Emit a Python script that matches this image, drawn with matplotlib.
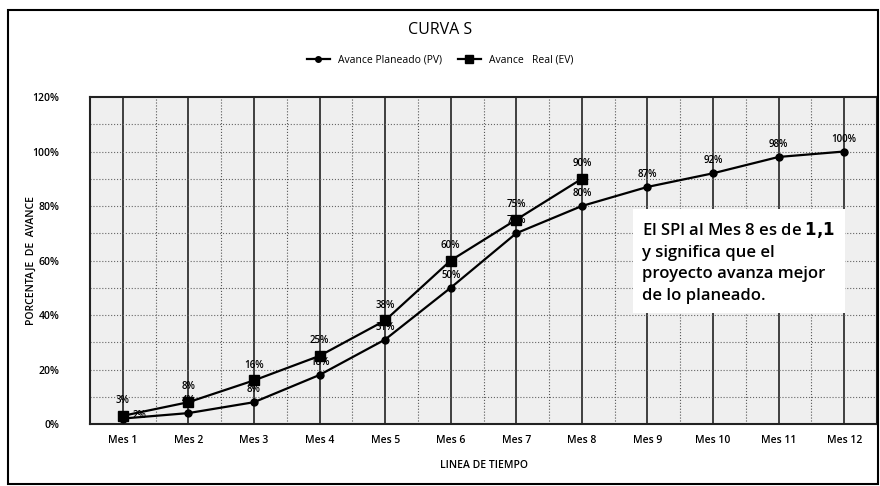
import matplotlib
matplotlib.use("Agg")
import matplotlib.pyplot as plt
from matplotlib.patches import Rectangle
from matplotlib.ticker import MultipleLocator, PercentFormatter

meses = ["Mes 1", "Mes 2", "Mes 3", "Mes 4", "Mes 5", "Mes 6",
         "Mes 7", "Mes 8", "Mes 9", "Mes 10", "Mes 11", "Mes 12"]
pv = [2, 4, 8, 18, 31, 50, 70, 80, 87, 92, 98, 100]
ev = [3, 8, 16, 25, 38, 60, 75, 90]
pv_labels = ["2%", "4%", "8%", "18%", "31%", "50%", "70%", "80%", "87%", "92%", "98%", "100%"]
ev_labels = ["3%", "8%", "16%", "25%", "38%", "60%", "75%", "90%"]

plt.rcParams['font.family'] = ['Open Sans', 'DejaVu Sans']

W, H = 880, 486
fig = plt.figure(figsize=(W / 100, H / 100), dpi=100)
ax = fig.add_axes([90 / W, 1 - 424 / H, 787 / W, (424 - 97) / H])

x = list(range(len(meses)))
ax.set_facecolor('#efefef')
ax.plot(x, pv, color='black', lw=1.6, marker='o', ms=5, label='Avance Planeado (PV)', zorder=4)
ax.plot(x[:len(ev)], ev, color='black', lw=1.6, marker='s', ms=6.5, label='Avance   Real (EV)', zorder=4)

for i, (xi, v, t) in enumerate(zip(x, pv, pv_labels)):
    off = (12, -2) if i == 0 else (0, 5)
    ax.annotate(t, (xi, v), xytext=off, textcoords='offset points', ha='center',
                va='bottom', fontsize=7, fontweight='semibold', zorder=5)
for xi, v, t in zip(x, ev, ev_labels):
    ax.annotate(t, (xi, v), xytext=(0, 7), textcoords='offset points', ha='center',
                va='bottom', fontsize=7, fontweight='semibold', zorder=5)

ax.set_xlim(-0.5, len(meses) - 0.5)
ax.set_ylim(0, 120)
ax.set_xticks(x)
ax.set_xticklabels(meses, fontsize=7.5, fontweight='semibold')
ax.yaxis.set_major_locator(MultipleLocator(20))
ax.yaxis.set_major_formatter(PercentFormatter(decimals=0))
for lbl in ax.get_yticklabels():
    lbl.set_fontweight('semibold')
ax.tick_params(axis='y', labelsize=7.5, length=0, pad=22)
ax.tick_params(axis='x', length=0, pad=8)

for xi in x:
    ax.axvline(xi, color='#222222', lw=1.2, zorder=1)
    ax.axvline(xi + 0.5, color='#555555', lw=0.8, ls=':', zorder=1)
for yv in range(10, 120, 10):
    ax.axhline(yv, color='#666666', lw=0.8, ls=':', zorder=1)
for s in ax.spines.values():
    s.set_linewidth(1.5)
    s.set_color('#222222')

ax.set_xlabel('LINEA DE TIEMPO', fontsize=7.5, fontweight='semibold', labelpad=10)
ax.set_ylabel('PORCENTAJE  DE  AVANCE', fontsize=7.5, fontweight='semibold', labelpad=10)
ax.yaxis.set_label_coords(-0.067, 0.5)

ax.text(0.702, 0.625, 'El SPI al Mes 8 es de $\\mathbf{1{,}1}$\ny significa que el\nproyecto avanza mejor\nde lo planeado.',
        transform=ax.transAxes, fontsize=12, va='top', ha='left', linespacing=1.45,
        fontweight='semibold',
        bbox=dict(boxstyle='square,pad=0.55', fc='white', ec='none'), zorder=6)

fig.text(0.5, 1 - 30 / H, 'CURVA S', ha='center', va='center', fontsize=11.5)
fig.legend(loc='center', bbox_to_anchor=(0.5, 1 - 60 / H), ncol=2, frameon=False,
           fontsize=7.5, handlelength=2.2, columnspacing=1.5, markerscale=0.8)

fig.patches.append(Rectangle((8 / W, 2 / H), 870 / W, 474 / H, transform=fig.transFigure,
                             fill=False, ec='black', lw=1.5))

fig.savefig('out.png', dpi=100, facecolor='white')
